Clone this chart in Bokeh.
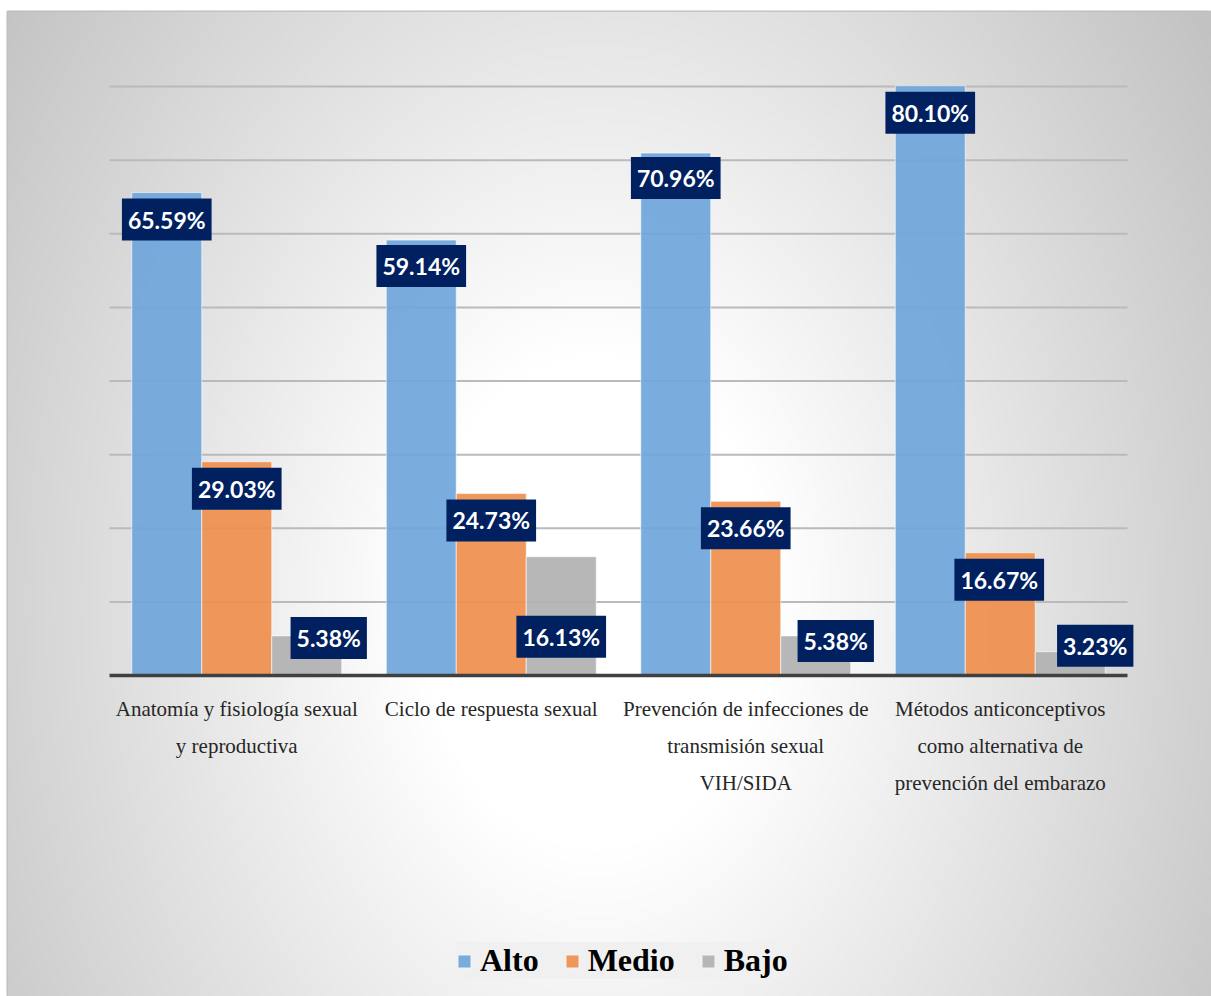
import numpy as np
from bokeh.plotting import figure
from bokeh.models import ColumnDataSource, Legend, LegendItem
from bokeh.core.properties import value
from bokeh.embed import file_html
from bokeh.resources import INLINE

# ---------------- data ----------------
categories = [
    "Anatomía y fisiología sexual\ny reproductiva",
    "Ciclo de respuesta sexual",
    "Prevención de infecciones de\ntransmisión sexual\nVIH/SIDA",
    "Métodos anticonceptivos\ncomo alternativa de\nprevención del embarazo",
]
series_names = ["Alto", "Medio", "Bajo"]
alto = [65.59, 59.14, 70.96, 80.10]
medio = [29.03, 24.73, 23.66, 16.67]
bajo = [5.38, 16.13, 5.38, 3.23]
y_ticks = [10, 20, 30, 40, 50, 60, 70, 80]

# label nudges (screen px) for the data labels, as placed in the original
alto_nudge = [(0, 27), (0, 26), (0, 25), (0, 27)]
medio_nudge = [(0, 27), (0, 27), (0, 27), (-1, 27)]
bajo_nudge = [(22, 2), (0, 80), (20, 5), (25, -6)]

# ---------------- layout ----------------
W, H = 1211, 996
TOP, LEFT = 11, 7
FW, FH = W - LEFT, H - TOP
px_per_x = 254.5
px_per_y = 7.3625
left_px = 102.0      # frame px from left edge to category axis start
base_px = 321.0      # frame px from bottom edge to baseline
x_start = -left_px / px_per_x
x_end = x_start + FW / px_per_x
y_start = -base_px / px_per_y
y_end = y_start + FH / px_per_y

colors = ["#6fa6da", "#ef8f4e", "#b1b1b1"]
bar_w = 0.275
offsets = [-bar_w, 0.0, bar_w]
centers = [i + 0.5 for i in range(len(categories))]

p = figure(width=W, height=H, x_range=(x_start, x_end), y_range=(y_start, y_end),
           output_backend="svg", toolbar_location=None,
           x_axis_location=None, y_axis_location=None,
           min_border_left=LEFT, min_border_right=0, min_border_bottom=0, min_border_top=TOP,
           border_fill_color="white")
p.grid.visible = False
p.outline_line_color = "#bdbdbd"
p.outline_line_width = 2

# radial gradient background
step = 4
nx, ny = FW // step + 1, FH // step + 1
cx, cy = 590.0, 590.0  # gradient centre (frame px from left / top)
xs_px = (np.arange(nx) + 0.5) * step
ys_px_top = FH - (np.arange(ny) + 0.5) * step
XX, YY = np.meshgrid(xs_px, ys_px_top)
r = np.sqrt((XX - cx) ** 2 + (0.72 * (YY - cy)) ** 2)
drop = np.clip(0.107 * (r - 175.0), 0, 66)
v = np.round(255 - drop).astype(np.uint32)
img = (np.uint32(255) << 24) | (v << 16) | (v << 8) | v
p.image_rgba(image=[img.astype(np.uint32)], x=x_start, y=y_start,
             dw=x_end - x_start, dh=y_end - y_start)

# gridlines
n = len(categories)
p.segment(x0=[0] * len(y_ticks), x1=[n] * len(y_ticks), y0=y_ticks, y1=y_ticks,
          line_color="#bababa", line_width=2)

# bars
renderers = []
all_vals = [alto, medio, bajo]
all_nudge = [alto_nudge, medio_nudge, bajo_nudge]
for name, vals, off, col in zip(series_names, all_vals, offsets, colors):
    src = ColumnDataSource(dict(x=[c + off for c in centers], top=vals))
    rr = p.vbar(x="x", top="top", bottom=0, width=bar_w, source=src,
                fill_color=col, fill_alpha=0.92, line_color="#ffffff",
                line_alpha=0.6, line_width=1)
    renderers.append(rr)

# baseline
p.segment(x0=[0], x1=[n], y0=[0], y1=[0], line_color="#404040", line_width=3.5)

# data labels
for vals, off, nudge in zip(all_vals, offsets, all_nudge):
    src = ColumnDataSource(dict(
        x=[c + off for c in centers], y=vals,
        t=[f"{vv:.2f}%" for vv in vals],
        dx=[a for a, b in nudge], dy=[b for a, b in nudge]))
    p.text(x="x", y="y", text="t", x_offset="dx", y_offset="dy", source=src,
           text_align="center", text_baseline="middle",
           text_font=value("Lato"), text_font_style="bold", text_font_size="23px",
           text_color="white", background_fill_color="#002060",
           padding=dict(left=6, right=6, top=7, bottom=7))

# category labels
p.text(x=centers, y=[0] * n, text=categories, y_offset=21,
       text_align="center", text_baseline="top",
       text_font=value("Liberation Serif"), text_font_size="21px",
       text_line_height=1.55, text_color="#262626")

legend = Legend(items=[LegendItem(label=s, renderers=[r_]) for s, r_ in zip(series_names, renderers)],
                orientation="horizontal", location=(449, 17),
                background_fill_color="#f0f0f0", background_fill_alpha=1,
                border_line_color=None,
                label_text_font="Liberation Serif", label_text_font_style="bold",
                label_text_font_size="32px", label_text_color="black",
                glyph_width=16, glyph_height=16, label_standoff=8,
                spacing=25, padding=17, margin=0)
p.add_layout(legend)

open("out.html", "w").write(file_html(p, INLINE))
